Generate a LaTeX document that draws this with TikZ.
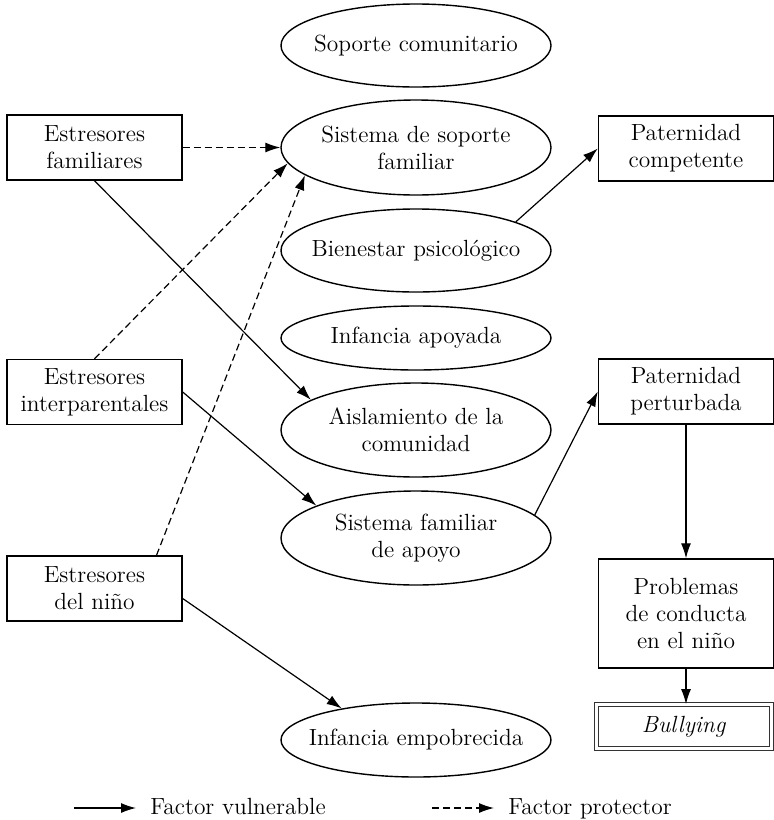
\documentclass[tikz,border=0pt]{standalone}
\usepackage{tikz}
\usetikzlibrary{arrows.meta,shapes.geometric}

\begin{document}
\begin{tikzpicture}[x=0.5pt,y=-0.5pt,
  every node/.style={font=\fontsize{11.7}{13.5}\selectfont,align=center,inner sep=0pt},
  elip/.style={ellipse,draw,line width=0.7pt,minimum width=135pt,inner xsep=-14pt},
  caja/.style={rectangle,draw,line width=0.7pt,minimum width=87.5pt,minimum height=32.5pt},
  vul/.style={-{Latex[length=7.5pt,width=5pt]},line width=0.6pt},
  pro/.style={vul,dash pattern=on 3.5pt off 2pt}]
\useasboundingbox (0,0) rectangle (774,820);
\node[elip,minimum height=41.5pt] (sc) at (416,45.5) {Soporte comunitario};
\node[elip,minimum height=47.5pt] (ssf) at (416,147.5) {Sistema de soporte\\familiar};
\node[elip,minimum height=41.5pt] (bp) at (416,250.5) {Bienestar psicológico};
\node[elip,minimum height=32pt] (ia) at (416,338) {Infancia apoyada};
\node[elip,minimum height=47pt] (ac) at (416,430) {Aislamiento de la\\comunidad};
\node[elip,minimum height=47pt] (sfa) at (416,538) {Sistema familiar\\de apoyo};
\node[elip,minimum height=37pt] (ie) at (416,740) {Infancia empobrecida};
\node[caja] (ef) at (94.5,147.5) {Estresores\\familiares};
\node[caja] (ei) at (94.5,392) {Estresores\\interparentales};
\node[caja] (en) at (94.5,588.5) {Estresores\\del niño};
\node[caja] (pc) at (686,148.5) {Paternidad\\competente};
\node[caja] (pp) at (686,391.5) {Paternidad\\perturbada};
\node[caja,minimum height=54.5pt] (pr) at (686,613.5) {Problemas\\de conducta\\en el niño};
\node[rectangle,draw=black!80,line width=0.6pt,double,double distance=1.5pt,
  minimum width=87.3pt,minimum height=21.8pt] (bu) at (684,726.5) {\textit{Bullying}};
\draw[pro] (ef.east) -- (ssf.west);
\draw[pro] (ei.north) -- (ssf.187);
\draw[pro] ([xshift=31pt]en.north) -- (ssf.194);
\draw[vul] (ef.south) -- (ac.164);
\draw[vul] (ei.east) -- (sfa.162);
\draw[vul] ([yshift=-5pt]en.east) -- (ie.157);
\draw[vul] (bp.16) -- (pc.west);
\draw[vul] (sfa.11) -- (pp.west);
\draw[vul] (pp) -- (pr);
\draw[vul] (pr.south) -- (pr.south |- bu.north);
\coordinate (lv0) at (74,808);
\coordinate (lv1) at (136,808);
\coordinate (lp0) at (432,808);
\coordinate (lp1) at (494,808);
\draw[vul] (lv0) -- (lv1);
\draw[pro] (lp0) -- (lp1);
\node[anchor=base west] (tvul) at (150,814) {Factor vulnerable};
\node[anchor=base west] (tpro) at (508,814) {Factor protector};
\end{tikzpicture}
\end{document}
